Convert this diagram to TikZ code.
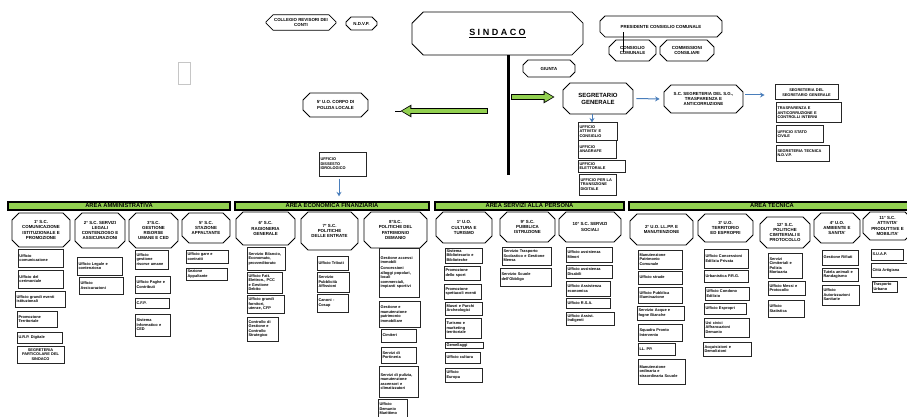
\documentclass[tikz,border=0pt]{standalone}
\usepackage{fontspec}
\setmainfont{Liberation Sans}
\usetikzlibrary{calc,shapes.misc,arrows.meta}
\definecolor{verdearea}{RGB}{146,208,80}
\definecolor{blufreccia}{RGB}{74,126,187}
\tikzset{dim/.style 2 args={minimum width=#1, minimum height=#2, text width=\dimexpr#1pt-3pt\relax},
  dimt/.style 2 args={minimum width=#1, minimum height=#2}}

\begin{document}
\begin{tikzpicture}[x=1pt,y=1pt]
\tikzstyle{testa}=[chamfered rectangle, chamfered rectangle xsep=3.5pt, chamfered rectangle ysep=3.5pt, draw, line width=.8pt, fill=white, align=center, inner sep=0pt, font=\fontsize{4.4}{5.2}\selectfont\bfseries]
\tikzstyle{ufficio}=[draw=black!85, line width=1pt, fill=white, align=left, inner sep=1pt, font=\fontsize{3.9}{4.5}\selectfont\bfseries]
\tikzstyle{area}=[draw, line width=1.3pt, fill=verdearea, minimum height=8, inner sep=0pt, font=\fontsize{5.8}{6}\selectfont\bfseries]
\tikzstyle{freccia}=[draw=blufreccia, line width=1pt, -{Stealth[length=4.5pt,width=5pt]}]
\useasboundingbox (0,0) rectangle (907,-417);

% vertice: sindaco e organi
\node[testa, dimt={70}{15}] (revisori) at (301,-22.5) {COLLEGIO REVISORI DEI\\CONTI};
\node[testa, dimt={31}{13}] (ndvp) at (361.5,-23.5) {N.D.V.P.};
\node[testa, dimt={171}{43}, chamfered rectangle xsep=7pt, chamfered rectangle ysep=7pt, font=\fontsize{9}{10}\selectfont\bfseries] (sindaco) at (497.5,-33.5) {\underline{S I N D A C O}};
\node[testa, dimt={122}{21}] (presidente) at (661,-26.5) {PRESIDENTE CONSIGLIO COMUNALE};
\node[testa, dimt={47}{21}] (consiglio) at (632.5,-50.5) {CONSIGLIO\\COMUNALE};
\node[testa, dimt={54}{21}] (commissioni) at (687,-50.5) {COMMISSIONI\\CONSILIARI};
\node[testa, dimt={52}{17}] (giunta) at (549,-68.5) {GIUNTA};
\draw[line width=.7pt] ($(presidente.south)+(-38,5)$) -- ($(consiglio.north)+(-9.5,-12)$);
\draw[gray!45, line width=.6pt] (178,-62) rectangle (190,-84);

% asse centrale e frecce verdi
\coordinate (asse) at ($(sindaco.south)+(10.5,-120)$);
\draw[line width=3pt] ($(sindaco.south)+(10.5,0)$) -- (asse);
\node[testa, dimt={70}{31}, font=\fontsize{6}{7}\selectfont\bfseries] (segretario) at (598,-98.5) {SEGRETARIO\\GENERALE};
\node[testa, dimt={65}{24}] (polizia) at (335.5,-105) {5° U.O. CORPO DI\\POLIZIA LOCALE};
\coordinate (assedx) at (511,-97);
\coordinate (assesx) at (488,-111);
\draw[line width=6pt, -{Triangle[length=11pt,width=12pt]}] (assedx) -- ($(segretario.west)+(-8,1.5)$);
\draw[verdearea, line width=4pt, -{Triangle[length=8.5pt,width=9pt]}, shorten >=1.5pt, shorten <=.8pt] (assedx) -- ($(segretario.west)+(-8,1.5)$);
\draw[line width=6pt, -{Triangle[length=11pt,width=12pt]}] (assesx) -- ($(polizia.east)+(32,-6)$);
\draw[verdearea, line width=4pt, -{Triangle[length=8.5pt,width=9pt]}, shorten >=1.5pt, shorten <=.8pt] (assesx) -- ($(polizia.east)+(32,-6)$);
\draw[line width=.6pt] ($(polizia.east)+(33,-6)$) -- ($(polizia.east)+(27,-6)$);

% segretario generale
\node[testa, dimt={79}{28}] (scsegreteria) at (703.5,-99) {S.C. SEGRETERIA DEL S.G.,\\TRASPARENZA E\\ANTICORRUZIONE};
\node[ufficio, dim={63}{15}, align=center] (segrsg) at (806.5,-92.5) {SEGRETERIA DEL\\SEGRETARIO GENERALE};
\node[ufficio, dim={65}{20}] (trasparenza) at (808.5,-113) {TRASPARENZA E\\ANTICORRUZIONE E\\CONTROLLI INTERNI};
\node[ufficio, dim={47}{16}] (statocivile) at (799.5,-134) {UFFICIO STATO\\CIVILE};
\node[ufficio, dim={53}{16}] (segrtecnica) at (802.5,-153) {SEGRETERIA TECNICA\\N.D.V.P.};
\node[ufficio, dim={39}{17}] (uffattivita) at (597.5,-131.5) {UFFICIO\\ATTIVITA' E\\CONSIGLIO};
\node[ufficio, dim={38}{18}] (uffanagrafe) at (597,-149) {UFFICIO\\ANAGRAFE};
\node[ufficio, dim={47}{12}] (uffelettorale) at (601.5,-166) {UFFICIO\\ELETTORALE};
\node[ufficio, dim={37}{21}] (ufftransizione) at (597.5,-184.5) {UFFICIO PER LA\\TRANSIZIONE\\DIGITALE};
\draw[freccia] ($(segretario.east)+(3,0)$) -- ($(scsegreteria.west)+(-4,0)$);
\draw[freccia] ($(scsegreteria.east)+(2,4)$) -- ($(segrsg.west)+(-10,-2.5)$);
\draw[freccia] ($(segretario.south)+(-6,0)$) -- ($(uffattivita.north)+(-5.5,0)$);

% aree
\node[area, minimum width=222] (areaamm) at (119,-206) {AREA AMMINISTRATIVA};
\node[area, minimum width=194] (areaeco) at (332,-206) {AREA ECONOMICA FINANZIARIA};
\node[area, minimum width=189] (areaserv) at (529.5,-206) {AREA SERVIZI ALLA PERSONA};
\node[area, minimum width=286] (areatec) at (772,-206) {AREA TECNICA};
\node[ufficio, dim={47}{24}] (dissesto) at (342.5,-164) {UFFICIO\\DISSESTO\\IDROLOGICO};
\draw[freccia] ($(dissesto.south)+(-3.5,-2)$) -- ($(areaeco.north)+(7,5)$);

% area amministrativa
\node[testa, dimt={58}{34}] (amm1) at (41,-230) {1° S.C.\\COMUNICAZIONE\\ISTITUZIONALE E\\PROMOZIONE};
\node[testa, dimt={50}{35}] (amm2) at (100,-230.5) {2° S.C. SERVIZI\\LEGALI\\CONTENZIOSO E\\ASSICURAZIONI};
\node[testa, dimt={49}{35}] (amm3) at (153.5,-230.5) {3°S.C.\\GESTIONE\\RISORSE\\UMANE E CED};
\node[testa, dimt={48}{30}] (amm4) at (206,-228) {5° S.C.\\STAZIONE\\APPALTANTE};
\node[ufficio, dim={45}{18}] (amm1a) at (40.5,-258) {Ufficio\\comunicazione};
\node[ufficio, dim={45}{18}] (amm1b) at (40.5,-279) {Ufficio del\\cerimoniale};
\node[ufficio, dim={50}{16}] (amm1c) at (40,-299) {Ufficio grandi eventi\\istituzionali};
\node[ufficio, dim={40}{16}] (amm1d) at (37,-319) {Promozione\\Territoriale};
\node[ufficio, dim={45}{11}] (amm1e) at (39.5,-337.5) {U.R.P. Digitale};
\node[ufficio, dim={47}{17}, align=center] (amm1f) at (40.5,-354.5) {SEGRETERIA\\PARTICOLARE DEL\\SINDACO};
\node[ufficio, dim={45}{18}] (amm2a) at (99.5,-266) {Ufficio Legale e\\contenzioso};
\node[ufficio, dim={44}{17}] (amm2b) at (101,-285.5) {Ufficio\\Assicurazioni};
\node[ufficio, dim={33}{19}] (amm3a) at (151.5,-259.5) {Ufficio\\gestione\\risorse umane};
\node[ufficio, dim={35}{17}] (amm3b) at (152.5,-284.5) {Ufficio Paghe e\\Contributi};
\node[ufficio, dim={34}{10}] (amm3c) at (152,-303) {C.F.P.};
\node[ufficio, dim={35}{22}] (amm3d) at (152.5,-325) {Sistema\\Informatico e\\CED};
\node[ufficio, dim={42}{13}] (amm4a) at (207,-256.5) {Ufficio gare e\\contratti};
\node[ufficio, dim={41}{12}] (amm4b) at (206.5,-274) {Sezione\\Appaltante};

% area economica finanziaria
\node[testa, dimt={59}{33}] (eco1) at (265.5,-228.5) {6° S.C.\\RAGIONERIA\\GENERALE};
\node[testa, dimt={57}{38}] (eco2) at (329.5,-231) {7° S.C.\\POLITICHE\\DELLE ENTRATE};
\node[testa, dimt={63}{36}] (eco3) at (395.5,-230) {8°S.C.\\POLITICHE DEL\\PATRIMONIO\\DEMANIO};
\node[ufficio, dim={38}{23}] (eco1a) at (266,-258.5) {Servizio Bilancio,\\Economato,\\provveditorato};
\node[ufficio, dim={35}{21}] (eco1b) at (264.5,-282.5) {Ufficio Fatt.\\Elettron., PCC\\e Gestione\\Debito};
\node[ufficio, dim={37}{18}] (eco1c) at (265.5,-304) {Ufficio grandi\\fornitori,\\utenze, CFP};
\node[ufficio, dim={31}{24}] (eco1d) at (262.5,-329) {Controllo di\\Gestione e\\Controllo\\Strategico};
\node[ufficio, dim={31}{14}] (eco2a) at (332.5,-263) {Ufficio Tributi};
\node[ufficio, dim={32}{20}] (eco2b) at (333,-282) {Servizio\\Pubblicità\\Affissioni};
\node[ufficio, dim={31}{18}] (eco2c) at (332.5,-303) {Canoni -\\Cosap};
\node[ufficio, dim={40}{49}] (eco3a) at (399,-272.5) {Gestione accessi\\immobili\\[1.5pt]Concessioni\\alloggi popolari,\\locali\\commerciali,\\impianti sportivi};
\node[ufficio, dim={41}{26}] (eco3b) at (399.5,-314) {Gestione e\\manutenzione\\patrimonio\\immobiliare};
\node[ufficio, dim={35}{13}] (eco3c) at (398.5,-335.5) {Cimiteri};
\node[ufficio, dim={35}{16}] (eco3d) at (398.5,-355) {Servizi di\\Portineria};
\node[ufficio, dim={39}{31}] (eco3e) at (398.5,-381.5) {Servizi di pulizia,\\manutenzione\\ascensori e\\climatizzatori};
\node[ufficio, dim={29}{20}] (eco3f) at (392.5,-409) {Ufficio\\Demanio\\Marittimo};

% area servizi alla persona
\node[testa, dimt={56}{31}] (serv1) at (464,-227.5) {1° U.O.\\CULTURA E\\TURISMO};
\node[testa, dimt={55}{30}] (serv2) at (527.5,-227) {9° S.C.\\PUBBLICA\\ISTRUZIONE};
\node[testa, dimt={62}{30}] (serv3) at (590,-227) {10° S.C. SERVIZI\\SOCIALI};
\node[ufficio, dim={37}{15}] (serv1a) at (463.5,-255.5) {Sistema\\Bibliotecario e\\Biblioteche};
\node[ufficio, dim={36}{14}] (serv1b) at (462,-273) {Promozione\\dello sport};
\node[ufficio, dim={37}{15}] (serv1c) at (462.5,-291.5) {Promozione\\spettacoli eventi};
\node[ufficio, dim={37}{13}] (serv1d) at (463.5,-308.5) {Musei e Parchi\\Archeologici};
\node[ufficio, dim={36}{20}] (serv1e) at (463,-328) {Turismo e\\marketing\\territoriale};
\node[ufficio, dim={38}{6}] (serv1f) at (464,-345) {Gemellaggi};
\node[ufficio, dim={35}{11}] (serv1g) at (462.5,-357.5) {Ufficio cultura};
\node[ufficio, dim={37}{14}] (serv1h) at (463.5,-375) {Ufficio\\Europa};
\node[ufficio, dim={49}{18}] (serv2a) at (526.5,-256) {Servizio Trasporto\\Scolastico e Gestione\\Mensa};
\node[ufficio, dim={51}{18}] (serv2b) at (525.5,-277) {Servizio Scuole\\dell'Obbligo};
\node[ufficio, dim={46}{15}] (serv3a) at (589,-254.5) {Ufficio assistenza\\Minori};
\node[ufficio, dim={46}{13}] (serv3b) at (589,-271.5) {Ufficio assistenza\\Disabili};
\node[ufficio, dim={44}{15}] (serv3c) at (588,-288.5) {Ufficio Assistenza\\economica};
\node[ufficio, dim={44}{10}] (serv3d) at (588,-303) {Ufficio R.S.A.};
\node[ufficio, dim={48}{13}] (serv3e) at (590,-318.5) {Ufficio Assist.\\Indigenti};

% area tecnica
\node[testa, dimt={63}{31}] (tec1) at (661.5,-229.5) {2° U.O. LL.PP. E\\MANUTENZIONE};
\node[testa, dimt={55}{28}] (tec2) at (725.5,-228) {3° U.O.\\TERRITORIO\\ED ESPROPRI};
\node[testa, dimt={50}{31}] (tec3) at (785,-232.5) {12° S.C.\\POLITICHE\\CIMITERIALI E\\PROTOCOLLO};
\node[testa, dimt={46}{30}] (tec4) at (837,-228) {4° U.O.\\AMBIENTE E\\SANITA'};
\node[testa, dimt={49}{28}] (tec5) at (887.5,-226) {11° S.C.\\ATTIVITA'\\PRODUTTIVE E\\MOBILITA'};
\node[ufficio, dim={44}{19}] (tec1a) at (660,-259.5) {Manutenzione\\Patrimonio\\Comunale};
\node[ufficio, dim={44}{13}] (tec1b) at (660,-277.5) {Ufficio strade};
\node[ufficio, dim={44}{16}] (tec1c) at (660,-295) {Ufficio Pubblica\\Illuminazione};
\node[ufficio, dim={47}{14}] (tec1d) at (660.5,-313) {Servizio Acque e\\fogne Bianche};
\node[ufficio, dim={44}{17}] (tec1e) at (660,-332.5) {Squadra Pronto\\Intervento};
\node[ufficio, dim={37}{12}] (tec1f) at (656.5,-349) {LL. PP.};
\node[ufficio, dim={47}{25}] (tec1g) at (661.5,-371.5) {Manutenzione\\ordinaria e\\straordinaria Scuole};
\node[ufficio, dim={44}{19}] (tec2a) at (726,-258.5) {Ufficio Concessioni\\Edilizia Privata};
\node[ufficio, dim={44}{12}] (tec2b) at (726,-276) {Urbanistica P.R.G.};
\node[ufficio, dim={44}{13}] (tec2c) at (727,-293.5) {Ufficio Condono\\Edilizio};
\node[ufficio, dim={42}{11}] (tec2d) at (725,-308.5) {Ufficio Espropri};
\node[ufficio, dim={45}{19}] (tec2e) at (726.5,-327.5) {Usi civici\\Affrancazioni\\Demanio};
\node[ufficio, dim={48}{14}] (tec2f) at (727,-349) {Acquisizioni e\\Demolizioni};
\node[ufficio, dim={34}{25}] (tec3a) at (785,-265.5) {Servizi\\Cimiteriali e\\Polizia\\Mortuaria};
\node[ufficio, dim={37}{14}] (tec3b) at (786.5,-288) {Ufficio Messi e\\Protocollo};
\node[ufficio, dim={36}{17}] (tec3c) at (786,-308.5) {Ufficio\\Statistica};
\node[ufficio, dim={36}{15}] (tec4a) at (840,-257.5) {Gestione Rifiuti};
\node[ufficio, dim={36}{13}] (tec4b) at (840,-274.5) {Tutela animali e\\Randagismo};
\node[ufficio, dim={37}{20}] (tec4c) at (840.5,-295) {Ufficio\\Autorizzazioni\\Sanitarie};
\node[ufficio, dim={32}{11}] (tec5a) at (887,-254.5) {S.U.A.P.};
\node[ufficio, dim={36}{14}] (tec5b) at (889,-270) {Città Artigiana};
\node[ufficio, dim={25}{11}] (tec5c) at (884.5,-286.5) {Trasporto\\Urbano};

\end{tikzpicture}
\end{document}
